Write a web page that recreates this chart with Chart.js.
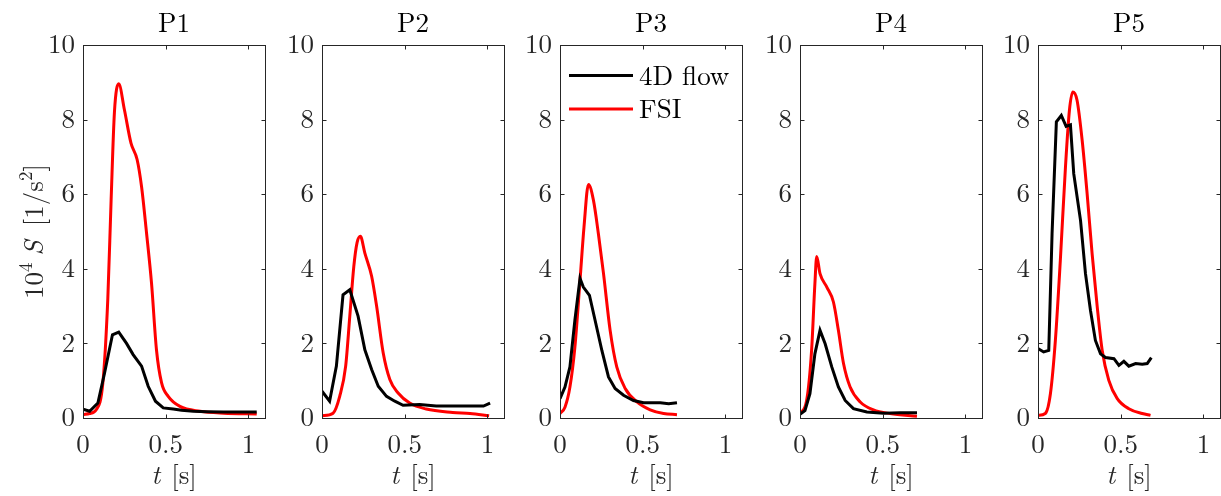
<!DOCTYPE html>
<html>
<head>
<meta charset="utf-8">
<script src="https://cdn.jsdelivr.net/npm/chart.js@4.4.0/dist/chart.umd.min.js"></script>
<style>
  body { margin: 0; background: #fff; overflow: hidden; }
  #wrap { position: relative; width: 1221px; height: 496px; }
  #wrap canvas { position: absolute; top: 0; }
</style>
</head>
<body>
<div id="wrap"></div>
<script>
// panel titles and series names
const panels = ["P1", "P2", "P3", "P4", "P5"];
const seriesNames = ["4D flow", "FSI"];
const xTicks = [0, 0.5, 1];
const yTicks = [0, 2, 4, 6, 8, 10];

// P1
const p1FlowT = [0, 0.04, 0.09, 0.13, 0.178, 0.216, 0.263, 0.303, 0.354, 0.394, 0.438, 0.485, 0.545, 0.596, 0.667, 0.75, 0.85, 0.95, 1.05];
const p1FlowS = [0.24, 0.18, 0.40, 1.20, 2.23, 2.30, 2.00, 1.70, 1.39, 0.85, 0.45, 0.27, 0.24, 0.21, 0.18, 0.17, 0.16, 0.16, 0.16];
const p1FsiT = [0, 0.04, 0.08, 0.12, 0.15, 0.17, 0.19, 0.216, 0.25, 0.29, 0.327, 0.354, 0.384, 0.414, 0.444, 0.475, 0.515, 0.586, 0.707, 0.85, 1.05];
const p1FsiS = [0.09, 0.12, 0.22, 0.94, 3.2, 5.85, 8.2, 8.96, 8.27, 7.37, 6.93, 6.2, 4.96, 3.62, 1.83, 0.94, 0.58, 0.31, 0.18, 0.13, 0.11];

// P2
const p2FlowT = [0, 0.046, 0.087, 0.127, 0.168, 0.218, 0.259, 0.3, 0.34, 0.39, 0.44, 0.49, 0.59, 0.69, 0.79, 0.895, 0.976, 1.016];
const p2FlowS = [0.72, 0.45, 1.39, 3.3, 3.44, 2.73, 1.83, 1.3, 0.85, 0.58, 0.45, 0.34, 0.36, 0.32, 0.32, 0.32, 0.32, 0.40];
const p2FsiT = [0, 0.067, 0.107, 0.143, 0.168, 0.192, 0.212, 0.232, 0.259, 0.3, 0.33, 0.37, 0.41, 0.46, 0.53, 0.63, 0.79, 0.895, 1.01];
const p2FsiS = [0.06, 0.13, 0.58, 1.39, 2.73, 4.05, 4.7, 4.87, 4.42, 3.8, 3.0, 1.74, 1.03, 0.67, 0.40, 0.24, 0.15, 0.12, 0.06];

// P3
const p3FlowT = [0, 0.03, 0.06, 0.09, 0.121, 0.141, 0.178, 0.212, 0.253, 0.293, 0.333, 0.384, 0.444, 0.505, 0.606, 0.657, 0.707];
const p3FlowS = [0.52, 0.83, 1.37, 2.62, 3.74, 3.51, 3.29, 2.62, 1.81, 1.1, 0.79, 0.61, 0.47, 0.41, 0.41, 0.38, 0.41];
const p3FsiT = [0, 0.03, 0.06, 0.09, 0.121, 0.145, 0.172, 0.202, 0.232, 0.263, 0.303, 0.343, 0.394, 0.465, 0.545, 0.626, 0.707];
const p3FsiS = [0.12, 0.29, 0.83, 1.9, 3.69, 5.12, 6.26, 5.84, 4.94, 3.87, 2.35, 1.37, 0.79, 0.43, 0.22, 0.12, 0.09];

// P4
const p4FlowT = [0, 0.03, 0.06, 0.09, 0.121, 0.152, 0.192, 0.232, 0.273, 0.323, 0.404, 0.505, 0.606, 0.707];
const p4FlowS = [0.1, 0.2, 0.65, 1.72, 2.35, 1.99, 1.37, 0.83, 0.47, 0.25, 0.16, 0.13, 0.14, 0.14];
const p4FsiT = [0, 0.04, 0.07, 0.09, 0.101, 0.121, 0.162, 0.202, 0.232, 0.263, 0.303, 0.364, 0.444, 0.545, 0.707];
const p4FsiS = [0.12, 0.47, 1.81, 3.6, 4.33, 3.87, 3.51, 3.11, 2.35, 1.46, 0.83, 0.43, 0.22, 0.12, 0.05];

// P5
const p5FlowT = [0, 0.034, 0.065, 0.085, 0.111, 0.141, 0.17, 0.196, 0.216, 0.257, 0.287, 0.317, 0.347, 0.378, 0.408, 0.459, 0.489, 0.519, 0.549, 0.59, 0.63, 0.66, 0.685];
const p5FlowS = [1.86, 1.77, 1.81, 4.94, 7.94, 8.11, 7.82, 7.86, 6.55, 5.3, 3.87, 2.89, 2.08, 1.72, 1.62, 1.59, 1.41, 1.52, 1.39, 1.46, 1.44, 1.46, 1.62];
const p5FsiT = [0, 0.044, 0.075, 0.105, 0.135, 0.166, 0.19, 0.21, 0.236, 0.267, 0.297, 0.327, 0.358, 0.388, 0.428, 0.479, 0.549, 0.63, 0.68];
const p5FsiS = [0.07, 0.12, 0.65, 2.08, 4.23, 6.73, 8.25, 8.74, 8.52, 7.44, 6.01, 4.41, 2.98, 1.81, 1.01, 0.52, 0.25, 0.12, 0.07];

const flowData = [[p1FlowT, p1FlowS], [p2FlowT, p2FlowS], [p3FlowT, p3FlowS], [p4FlowT, p4FlowS], [p5FlowT, p5FlowS]];
const fsiData = [[p1FsiT, p1FsiS], [p2FsiT, p2FsiS], [p3FsiT, p3FsiS], [p4FsiT, p4FsiS], [p5FsiT, p5FsiS]];

// layout of the subplots
const plotLeft = [83, 322, 560, 800, 1038];
const yAxisW = 83, plotW = 182, padRight = 6;
const FONT = "'Latin Modern Roman', 'Liberation Serif', serif";
const INK = "#262626";

const toPoints = (t, s) => t.map((v, i) => ({ x: v, y: s[i] }));

// box, inward ticks, titles, labels, legend
const decor = {
  id: "decor",
  afterDraw(chart, args, opts) {
    const { ctx, chartArea: a, scales: { x, y } } = chart;
    ctx.save();
    ctx.strokeStyle = INK;
    ctx.lineWidth = 1;
    const L = Math.round(a.left) + 0.5, R = Math.round(a.right) + 0.5;
    const T = Math.round(a.top) + 0.5, B = Math.round(a.bottom) + 0.5;
    ctx.strokeRect(L, T, R - L, B - T);
    ctx.beginPath();
    xTicks.forEach(v => {
      const px = Math.round(x.getPixelForValue(v)) + 0.5;
      ctx.moveTo(px, B); ctx.lineTo(px, B - 4);
      ctx.moveTo(px, T); ctx.lineTo(px, T + 4);
    });
    yTicks.forEach(v => {
      const py = Math.round(y.getPixelForValue(v)) + 0.5;
      ctx.moveTo(L, py); ctx.lineTo(L + 4, py);
      ctx.moveTo(R, py); ctx.lineTo(R - 4, py);
    });
    ctx.stroke();

    const cx = (a.left + a.right) / 2;
    ctx.fillStyle = "#000";
    ctx.textAlign = "center";
    ctx.textBaseline = "alphabetic";
    ctx.font = "27px " + FONT;
    ctx.fillText(opts.title, cx, 32);

    // x label: t [s]
    ctx.fillStyle = INK;
    ctx.textAlign = "left";
    ctx.font = "italic 27px " + FONT;
    const wt = ctx.measureText("t").width;
    ctx.font = "27px " + FONT;
    const ws = ctx.measureText("[s]").width;
    const gap = 11;
    let xs = cx - (wt + gap + ws) / 2;
    ctx.font = "italic 27px " + FONT;
    ctx.fillText("t", xs, 484);
    ctx.font = "27px " + FONT;
    ctx.fillText("[s]", xs + wt + gap, 484);

    if (opts.ylabel) {
      // [text, font, raise, gap after]
      const parts = [
        ["10", "27px", 0, 0], ["4", "19px", -11, 7], ["S", "italic 27px", 0, 14],
        ["[1/s", "27px", 0, 0], ["2", "19px", -11, 0], ["]", "27px", 0, 0]
      ];
      let total = 0;
      parts.forEach(p => { ctx.font = p[1] + " " + FONT; total += ctx.measureText(p[0]).width + p[3]; });
      ctx.translate(43, (a.top + a.bottom) / 2);
      ctx.rotate(-Math.PI / 2);
      let px = -total / 2;
      parts.forEach(p => {
        ctx.font = p[1] + " " + FONT;
        ctx.fillText(p[0], px, p[2]);
        px += ctx.measureText(p[0]).width + p[3];
      });
      ctx.setTransform(1, 0, 0, 1, 0, 0);
    }

    if (opts.legend) {
      const lx = a.left + 9, rows = [75.5, 109];
      chart.data.datasets.forEach((ds, i) => {
        ctx.strokeStyle = ds.borderColor;
        ctx.lineWidth = 3;
        ctx.beginPath();
        ctx.moveTo(lx, rows[i]); ctx.lineTo(lx + 64, rows[i]);
        ctx.stroke();
        ctx.fillStyle = "#000";
        ctx.font = "27px " + FONT;
        ctx.textBaseline = "middle";
        ctx.fillText(ds.label, lx + 70, rows[i] + 1);
      });
    }
    ctx.restore();
  }
};

const wrap = document.getElementById("wrap");
panels.forEach((name, i) => {
  const cv = document.createElement("canvas");
  const w = yAxisW + plotW + padRight;
  cv.width = w; cv.height = 496;
  cv.style.width = w + "px"; cv.style.height = "496px";
  cv.style.left = (plotLeft[i] - yAxisW) + "px";
  wrap.appendChild(cv);

  new Chart(cv.getContext("2d"), {
    type: "line",
    data: {
      datasets: [
        {
          label: seriesNames[0],
          data: toPoints(flowData[i][0], flowData[i][1]),
          borderColor: "#000000",
          borderWidth: 3,
          pointRadius: 0,
          tension: 0,
          fill: false
        },
        {
          label: seriesNames[1],
          data: toPoints(fsiData[i][0], fsiData[i][1]),
          borderColor: "#ff0000",
          borderWidth: 3,
          pointRadius: 0,
          cubicInterpolationMode: "monotone",
          fill: false
        }
      ]
    },
    options: {
      responsive: false,
      animation: false,
      layout: { padding: { top: 45, right: padRight, left: 0, bottom: 0 } },
      plugins: {
        legend: { display: false },
        title: { display: false },
        tooltip: { enabled: false },
        decor: { title: name, ylabel: i === 0, legend: i === 2 }
      },
      scales: {
        x: {
          type: "linear",
          min: 0, max: 1.1,
          afterFit(s) { s.height = 78; },
          grid: { display: false, drawTicks: false },
          border: { display: false },
          ticks: {
            stepSize: 0.5, includeBounds: false, autoSkip: false, maxRotation: 0,
            padding: 11, color: INK, font: { family: FONT, size: 27 },
            callback: v => String(v)
          }
        },
        y: {
          min: 0, max: 10,
          afterFit(s) { s.width = yAxisW; },
          grid: { display: false, drawTicks: false },
          border: { display: false },
          ticks: {
            stepSize: 2, padding: 8, color: INK, font: { family: FONT, size: 27 },
            callback: v => String(v)
          }
        }
      }
    },
    plugins: [decor]
  });
});
</script>
</body>
</html>
